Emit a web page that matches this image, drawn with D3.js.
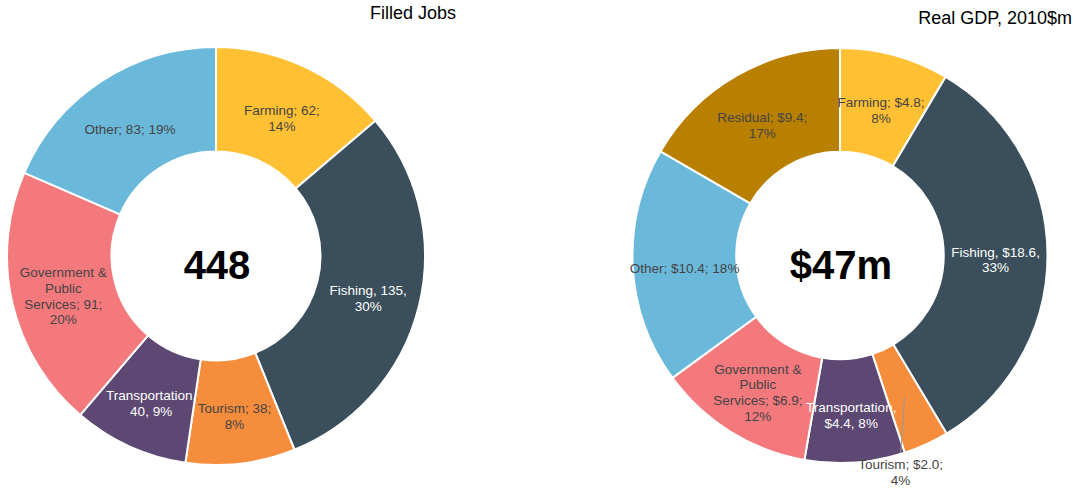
<!DOCTYPE html>
<html>
<head>
<meta charset="utf-8">
<script src="https://cdn.jsdelivr.net/npm/d3@7"></script>
<style>
  html, body { margin: 0; padding: 0; background: #fff; }
  svg { display: block; font-family: "Liberation Sans", Arial, sans-serif; }
</style>
</head>
<body>
<svg id="chart" width="1073" height="490"></svg>
<script>
// ---- Data ----
const jobsTitle = "Filled Jobs";
const jobsCenterLabel = "448";
const jobsCategories = ["Farming", "Fishing", "Tourism", "Transportation", "Government & Public Services", "Other"];
const jobsValues = [62, 135, 38, 40, 91, 83];
const jobsLabels = [
  ["Farming; 62;", "14%"],
  ["Fishing, 135,", "30%"],
  ["Tourism; 38;", "8%"],
  ["Transportation,", "40, 9%"],
  ["Government &", "Public", "Services; 91;", "20%"],
  ["Other; 83; 19%"]
];

const gdpTitle = "Real GDP, 2010$m";
const gdpCenterLabel = "$47m";
const gdpCategories = ["Farming", "Fishing", "Tourism", "Transportation", "Government & Public Services", "Other", "Residual"];
const gdpValues = [4.8, 18.6, 2.0, 4.4, 6.9, 10.4, 9.4];
const gdpLabels = [
  ["Farming; $4.8;", "8%"],
  ["Fishing, $18.6,", "33%"],
  ["Tourism; $2.0;", "4%"],
  ["Transportation,", "$4.4, 8%"],
  ["Government &", "Public", "Services; $6.9;", "12%"],
  ["Other; $10.4; 18%"],
  ["Residual; $9.4;", "17%"]
];

const categoryColors = ["#FFC133", "#3A4F5B", "#F58D3D", "#5C4872", "#F4797D", "#6BB9DA", "#B98000"];
const allCategories = ["Farming", "Fishing", "Tourism", "Transportation", "Government & Public Services", "Other", "Residual"];

// ---- Drawing ----
const svg = d3.select("#chart");
const color = d3.scaleOrdinal(allCategories, categoryColors);

function isDark(c) {
  const rgb = d3.rgb(c);
  return (0.299 * rgb.r + 0.587 * rgb.g + 0.114 * rgb.b) < 110;
}

function donut(cfg) {
  const g = svg.append("g").attr("transform", `translate(${cfg.cx},${cfg.cy})`);
  const data = cfg.categories.map((c, i) => ({ cat: c, value: cfg.values[i], lines: cfg.labels[i] }));
  const pie = d3.pie().sort(null).value(d => d.value);
  const arcs = pie(data);
  const arc = d3.arc().innerRadius(cfg.r * 0.5).outerRadius(cfg.r);

  g.selectAll("path.slice").data(arcs).join("path")
    .attr("class", "slice")
    .attr("d", arc)
    .attr("fill", d => color(d.data.cat))
    .attr("stroke", "#fff")
    .attr("stroke-width", 2);

  const fs = 13.5, lh = 15.6;
  arcs.forEach(a => {
    const [x, y] = arc.centroid(a);
    const span = (a.endAngle - a.startAngle) * 180 / Math.PI;
    const n = a.data.lines.length;
    if (span < 20) {
      // outside label with leader line
      const lx = x - 4;
      const top = cfg.r - 10;
      g.append("line")
        .attr("x1", x).attr("y1", y)
        .attr("x2", lx).attr("y2", top)
        .attr("stroke", "#999").attr("stroke-width", 1);
      const t = g.append("text")
        .attr("text-anchor", "middle")
        .attr("font-size", fs)
        .attr("fill", "#444");
      a.data.lines.forEach((ln, i) => {
        t.append("tspan").attr("x", lx).attr("y", cfg.r + 6 + i * lh).text(ln);
      });
    } else {
      const t = g.append("text")
        .attr("text-anchor", "middle")
        .attr("font-size", fs)
        .attr("fill", isDark(color(a.data.cat)) ? "#fff" : "#444");
      const first = y + 9.5 - (n - 1) * lh / 2;
      a.data.lines.forEach((ln, i) => {
        t.append("tspan").attr("x", x).attr("y", first + i * lh).text(ln);
      });
    }
  });

  g.append("text")
    .attr("text-anchor", "middle")
    .attr("x", 1).attr("y", 23)
    .attr("font-size", 40)
    .attr("font-weight", "bold")
    .attr("fill", "#000")
    .text(cfg.center);
}

donut({ cx: 216, cy: 256, r: 209, categories: jobsCategories, values: jobsValues, labels: jobsLabels, center: jobsCenterLabel });
donut({ cx: 840, cy: 255.5, r: 207.5, categories: gdpCategories, values: gdpValues, labels: gdpLabels, center: gdpCenterLabel });

svg.append("text")
  .attr("x", 413).attr("y", 19)
  .attr("text-anchor", "middle")
  .attr("font-size", 18)
  .attr("fill", "#000")
  .text(jobsTitle);

svg.append("text")
  .attr("x", 1072).attr("y", 24)
  .attr("text-anchor", "end")
  .attr("font-size", 18)
  .attr("fill", "#000")
  .text(gdpTitle);
</script>
</body>
</html>
